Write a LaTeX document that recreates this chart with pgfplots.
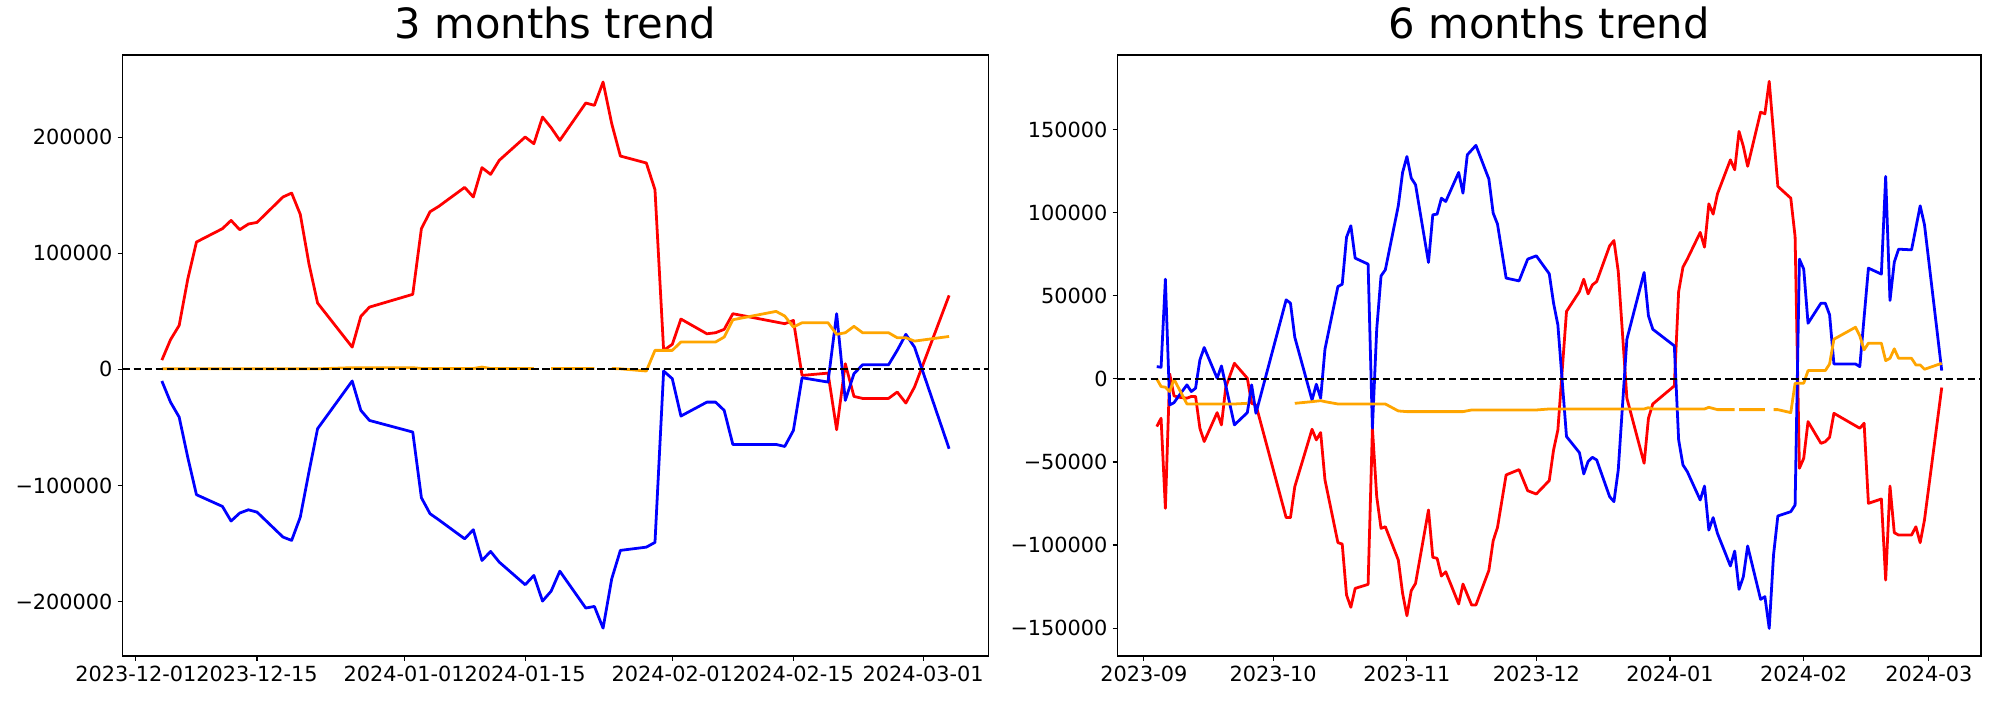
\documentclass[border=0pt]{standalone}
\usepackage{pgfplots}
\pgfplotsset{compat=1.18}
\usepackage{fontspec}
\setmainfont{DejaVu Sans}
\definecolor{mplorange}{RGB}{255,165,0}
\pgfplotsset{
  panel/.style={
    scale only axis,
    axis line style={line width=0.8pt, black},
    tick align=outside,
    major tick length=3.5pt,
    every tick/.style={line width=0.8pt, black},
    xtick pos=left, ytick pos=left,
    minor tick num=0,
    tick label style={font=\fontsize{15}{17}\selectfont},
    xticklabel style={anchor=north, inner sep=0pt, yshift=-3.5pt},
    yticklabel style={anchor=east, inner sep=0pt, xshift=-3.5pt},
    /pgf/number format/assume math mode=true,
    title style={font=\fontsize{30}{36}\selectfont, anchor=base, at={(0.5,1)}, yshift=6pt, inner sep=0pt},
    scaled y ticks=false,
    unbounded coords=jump,
    every axis plot/.append style={line width=2pt, line join=round},
  },
  zeroline/.style={black, line width=1.5pt, dash pattern=on 5.55pt off 2.4pt},
}
\begin{document}
\begin{tikzpicture}
\useasboundingbox (0,0) rectangle (1440pt,504pt);
\begin{axis}[panel,
  at={(88.2pt,31.7pt)}, anchor=south west,
  width=623.5pt, height=432.7pt,
  xmin=-1.55, xmax=98.55, ymin=-247000, ymax=271000,
  xtick={0,14,31,45,62,76,91},
  xticklabels={2023-12-01,2023-12-15,2024-01-01,2024-01-15,2024-02-01,2024-02-15,2024-03-01},
  ytick={-200000,-100000,0,100000,200000},
  yticklabels={−200000,−100000,0,100000,200000},
  title={3 months trend},
]
\addplot[red] table {
3 8000
4 25600
5 37900
6 78000
7 109800
10 121300
11 128400
12 120400
13 125300
14 126700
17 148600
18 152000
19 133600
20 91100
21 57200
25 19200
26 45700
27 53700
32 64700
33 121300
34 135900
35 140500
38 156900
39 148600
40 173900
41 168100
42 180200
45 200300
46 194500
47 217500
48 208300
49 197400
52 229600
53 227600
54 247700
55 211800
56 183900
59 177900
60 154900
61 16400
62 21600
63 43400
66 30700
67 31600
68 34500
69 48000
75 39400
76 42200
77 -5200
80 -3200
81 -52000
82 4900
83 -23300
84 -25000
87 -25000
88 -19500
89 -29000
90 -15200
94 63800
};
\addplot[blue] table {
3 -10000
4 -28200
5 -41100
6 -76000
7 -108000
10 -118100
11 -130700
12 -123800
13 -121000
14 -123000
17 -144500
18 -147400
19 -127300
20 -88500
21 -51100
25 -10000
26 -35300
27 -44000
32 -54000
33 -110600
34 -124400
35 -129600
38 -146000
39 -138200
40 -164700
41 -156900
42 -166100
45 -185600
46 -177600
47 -199700
48 -191100
49 -173900
52 -205700
53 -204300
54 -223000
55 -180500
56 -156000
59 -153200
60 -149100
61 -1400
62 -8000
63 -40200
66 -28200
67 -28200
68 -35300
69 -64700
74 -64700
75 -66400
76 -52600
77 -7200
80 -10900
81 48000
82 -26700
83 -3700
84 4000
87 4000
88 16400
89 30200
90 19200
94 -68400
};
\addplot[mplorange] table {
3 500
4 500
5 500
6 500
7 500
10 500
11 500
12 500
13 500
14 500
17 500
18 500
19 500
20 500
21 500
25 1500
26 1500
27 1500
32 1500
33 800
34 800
35 800
38 800
39 800
40 2000
41 800
42 800
45 800
46 800
47 nan
48 800
49 800
52 800
53 800
54 nan
55 800
56 500
59 -1400
60 16400
61 16400
62 16400
63 23600
66 23600
67 23600
68 27900
69 42800
74 50000
75 46000
76 36500
77 40200
80 40200
81 30200
82 31600
83 37100
84 31600
87 31600
88 27300
89 27300
90 24400
94 28400
};
\addplot[zeroline] coordinates {(-1.55,0) (98.55,0)};
\end{axis}
\begin{axis}[panel,
  at={(804.6pt,31.7pt)}, anchor=south west,
  width=621.7pt, height=432.7pt,
  xmin=-6.1, xmax=194.1, ymin=-166800, ymax=195000,
  xtick={0,30,61,91,122,153,182},
  xticklabels={2023-09,2023-10,2023-11,2023-12,2024-01,2024-02,2024-03},
  ytick={-150000,-100000,-50000,0,50000,100000,150000},
  yticklabels={−150000,−100000,−50000,0,50000,100000,150000},
  title={6 months trend},
]
\addplot[red] table {
3 -28700
4 -23700
5 -77900
6 3000
7 -10200
8 -11000
10 -11600
11 -10600
12 -10600
13 -29700
14 -37700
17 -20300
18 -27700
19 -5000
21 9400
24 400
25 -14700
26 -15700
33 -83500
34 -83500
35 -64900
39 -30300
40 -36700
41 -32300
42 -60800
45 -98600
46 -99400
47 -130100
48 -137500
49 -126100
52 -123700
53 -29700
54 -70900
55 -90000
56 -89000
59 -109000
60 -129100
61 -142600
62 -127500
63 -123100
66 -78900
67 -107400
68 -108000
69 -118700
70 -116100
73 -135500
74 -123500
76 -136100
77 -136100
80 -115300
81 -97400
82 -89400
84 -57800
87 -54600
89 -67300
91 -69300
94 -61200
95 -42800
96 -30700
98 40600
101 52600
102 60000
103 51200
104 56600
105 58600
108 80100
109 83300
110 64700
112 -11600
116 -50800
117 -23700
118 -15100
123 -4200
124 52600
125 67300
126 72100
129 88200
130 79300
131 105400
132 99200
133 111400
136 131900
137 125900
138 149000
139 140000
140 128000
143 160600
144 159600
145 179100
146 148000
147 115900
150 108800
151 85700
152 -53800
153 -47800
154 -25700
157 -38800
158 -37800
159 -35100
160 -20700
166 -29700
167 -26700
168 -74900
171 -72300
172 -121100
173 -64500
174 -92600
175 -94000
178 -94000
179 -89000
180 -98600
181 -84900
185 -5200
};
\addplot[blue] table {
3 7400
4 7000
5 60000
6 -15700
7 -14300
8 -10600
10 -3600
11 -7600
12 -5600
13 11400
14 18900
17 400
18 7800
21 -27700
24 -20300
25 -3600
26 -20700
33 47600
34 45600
35 25100
39 -12700
40 -3200
41 -11600
42 17900
45 55600
46 57000
47 85300
48 92200
49 72700
52 69100
53 -29700
54 30000
55 62000
56 65700
59 104200
60 124300
61 133900
62 120900
63 116900
66 70100
67 98800
68 99200
69 108800
70 106800
73 124300
74 111800
75 134900
77 140600
80 120300
81 99800
82 93200
84 60700
87 59000
89 72100
91 74100
94 63300
95 45600
96 32500
98 -34700
101 -44400
102 -57200
103 -49800
104 -47200
105 -48800
108 -70900
109 -73900
110 -54800
112 23900
116 64100
117 38000
118 29900
123 19900
124 -36700
125 -51800
126 -55800
129 -72900
130 -64500
131 -91000
132 -83500
133 -93000
136 -112600
137 -103600
138 -126700
139 -119100
140 -100600
143 -132700
144 -131100
145 -150200
146 -106000
147 -82500
150 -79900
151 -75900
152 72100
153 66100
154 33500
157 45600
158 45600
159 38600
160 9000
165 9000
166 7400
168 66700
171 63100
172 121900
173 47200
174 70300
175 78100
178 77700
180 104200
181 92800
185 5000
};
\addplot[mplorange] table {
3 0
4 -4600
5 -5000
6 -7600
7 -200
10 -15100
11 -15100
14 -15100
17 -15100
21 -15100
24 -14700
25 nan
35 -14700
39 -13700
41 -13100
42 -13700
45 -15100
56 -15100
59 -19300
61 -19700
74 -19700
76 -18700
91 -18700
94 -18100
116 -18100
117 -17300
118 -18100
130 -18100
131 -17100
133 -18500
137 -18500
137.5 nan
138 -18500
144 -18500
145 nan
146 -18500
147 -18500
150 -20300
151 -2600
153 -2600
154 5000
158 5000
159 9000
160 23900
165 31100
166 25900
167 17500
168 21500
171 21500
172 11000
173 12400
174 18100
175 12400
178 12400
179 8400
180 8400
181 5800
185 9400
};
\addplot[zeroline] coordinates {(-6.1,0) (194.1,0)};
\end{axis}
\end{tikzpicture}
\end{document}
